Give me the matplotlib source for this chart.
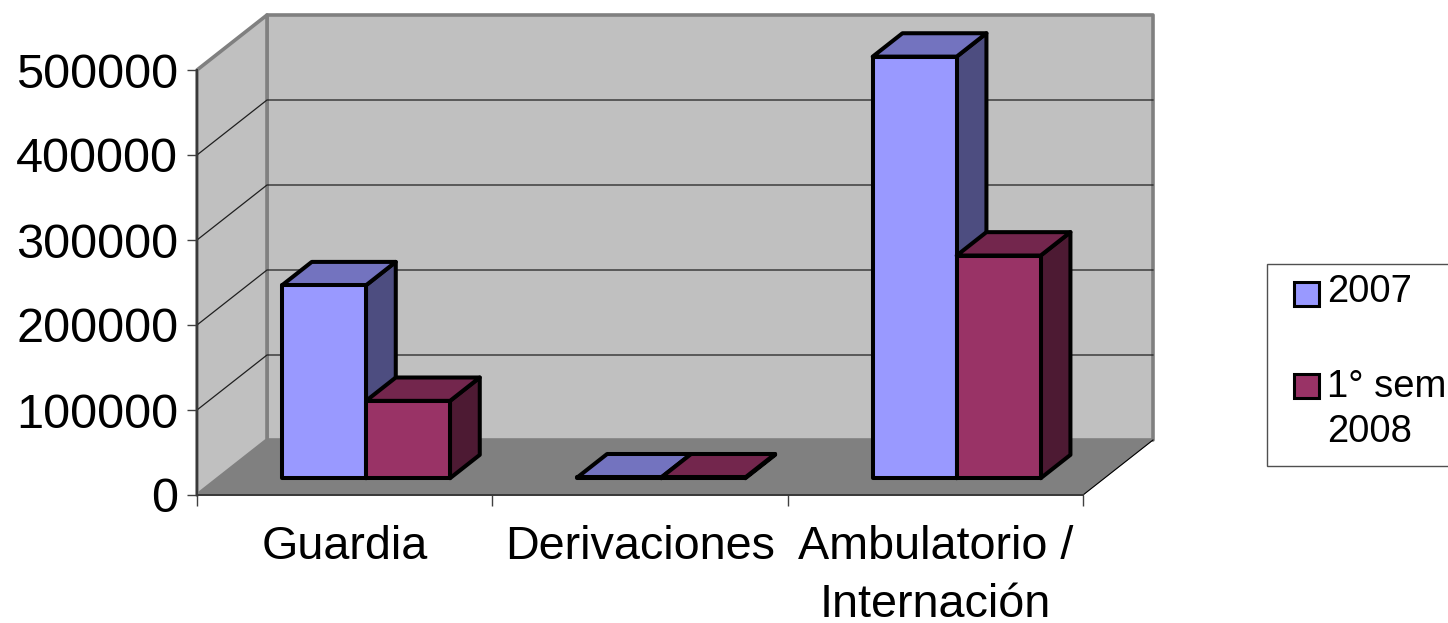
"""
plot.py

Excel-style 3D clustered columns, drawn as flat polygons on ordinary axes.
"""

import matplotlib

matplotlib.use("Agg")
import matplotlib.pyplot as plt
from matplotlib.patches import Polygon, Rectangle

plt.rcParams["font.family"] = ["Liberation Sans", "DejaVu Sans"]

# -- data ------------------------------------------------------
categories = ["Guardia", "Derivaciones", "Ambulatorio /\nInternación"]
series_names = ["2007", "1° sem\n2008"]
values_2007 = [227000, 1000, 496000]
values_2008 = [91000, 1000, 262000]
y_ticks = [0, 100000, 200000, 300000, 400000, 500000]

# -- style -----------------------------------------------------
WALL = "#C0C0C0"
FLOOR = "#808080"
FRONT = ["#9999FF", "#993366"]
TOP = ["#7373BF", "#73264D"]
SIDE = ["#4D4D80", "#4D1A33"]

W, H = 1448, 623
LEFT, RIGHT, BASE, TOP_PX = 197, 1083, 495, 70

# depth of the box, in data units (70 px across, 55 px up)
DX = 70 / ((RIGHT - LEFT) / 3)
DY = 55 / (BASE - TOP_PX) * 500000
BAR_W = 0.2844
GAP = (1 - 2 * BAR_W) / 2
D_FRONT, D_BACK = 0.305, 0.73

fig = plt.figure(figsize=(W / 100, H / 100), dpi=100)
ax = fig.add_axes([LEFT / W, 1 - BASE / H, (RIGHT - LEFT) / W, (BASE - TOP_PX) / H])
ax.set_xlim(0, 3)
ax.set_ylim(0, 500000)
ax.patch.set_visible(False)


def pt(x, v, d=0.0):
    # data position at depth d (0 = front plane, 1 = back wall)
    return (x + d * DX, v + d * DY)


def poly(points, face, edge="black", lw=2.9, z=3):
    ax.add_patch(Polygon(points, closed=True, facecolor=face, edgecolor=edge,
                         linewidth=lw, joinstyle="round", clip_on=False, zorder=z))


# -- walls and floor -------------------------------------------
top_v = y_ticks[-1]
poly([pt(0, 0, 1), pt(3, 0, 1), pt(3, top_v, 1), pt(0, top_v, 1)], WALL, FLOOR, 2.6, 1)
poly([pt(0, 0), pt(0, 0, 1), pt(0, top_v, 1), pt(0, top_v)], WALL, FLOOR, 2.6, 1)
poly([pt(0, 0), pt(3, 0), pt(3, 0, 1), pt(0, 0, 1)], FLOOR, FLOOR, 0.5, 1.5)

for v in y_ticks[1:-1]:
    xs, ys = zip(pt(0, v), pt(0, v, 1), pt(3, v, 1))
    ax.plot(xs, ys, color="#202020", lw=0.9, clip_on=False, zorder=2)
xs, ys = zip(pt(3, 0), pt(3, 0, 1))
ax.plot(xs, ys, color="black", lw=0.8, clip_on=False, zorder=2)

# -- columns ---------------------------------------------------
for c in range(len(categories)):
    for s, vals in enumerate([values_2007, values_2008]):
        x0 = c + GAP + s * BAR_W
        x1 = x0 + BAR_W
        v = vals[c]
        # side, top, front, each shifted back into the box
        poly([pt(x1, 0, D_FRONT), pt(x1, 0, D_BACK), pt(x1, v, D_BACK), pt(x1, v, D_FRONT)], SIDE[s])
        poly([pt(x0, v, D_FRONT), pt(x1, v, D_FRONT), pt(x1, v, D_BACK), pt(x0, v, D_BACK)], TOP[s])
        poly([pt(x0, 0, D_FRONT), pt(x1, 0, D_FRONT), pt(x1, v, D_FRONT), pt(x0, v, D_FRONT)], FRONT[s])

# -- axes ------------------------------------------------------
for side in ["top", "right"]:
    ax.spines[side].set_visible(False)
for side in ["left", "bottom"]:
    ax.spines[side].set_linewidth(1.4)
    ax.spines[side].set_color("#383838")
    ax.spines[side].set_zorder(2.5)

ax.set_yticks(y_ticks)
ax.set_yticklabels([str(v) for v in y_ticks], fontsize=35)
ax.tick_params(axis="y", length=7, width=1, color="#404040", pad=6.5)
ax.set_xticks([0, 1, 2, 3])
ax.set_xticklabels([])
ax.tick_params(axis="x", which="major", length=8, width=1, color="#404040")
ax.set_xticks([0.5, 1.5, 2.5], minor=True)
ax.set_xticklabels(categories, minor=True, fontsize=33.7, linespacing=1.43)
ax.tick_params(axis="x", which="minor", length=0, pad=21.5)

# -- legend, cut by the figure edge as in the original ---------
def px(x, y):
    return (x / W, 1 - y / H)


fig.add_artist(Rectangle(px(1267, 466), 200 / W, 202 / H, transform=fig.transFigure,
                         facecolor="white", edgecolor="#505050", linewidth=1))
for s, (y0, base_y) in enumerate([(306, 302), (398, 442)]):
    fig.add_artist(Rectangle(px(1294, y0), 25 / W, 24 / H, transform=fig.transFigure,
                             facecolor=FRONT[s], edgecolor="black", linewidth=2.2))
    fig.text(*px(1327, base_y), series_names[s], fontsize=27.5, va="baseline", ha="left",
             linespacing=1.33)

fig.savefig("out.png", dpi=100)
